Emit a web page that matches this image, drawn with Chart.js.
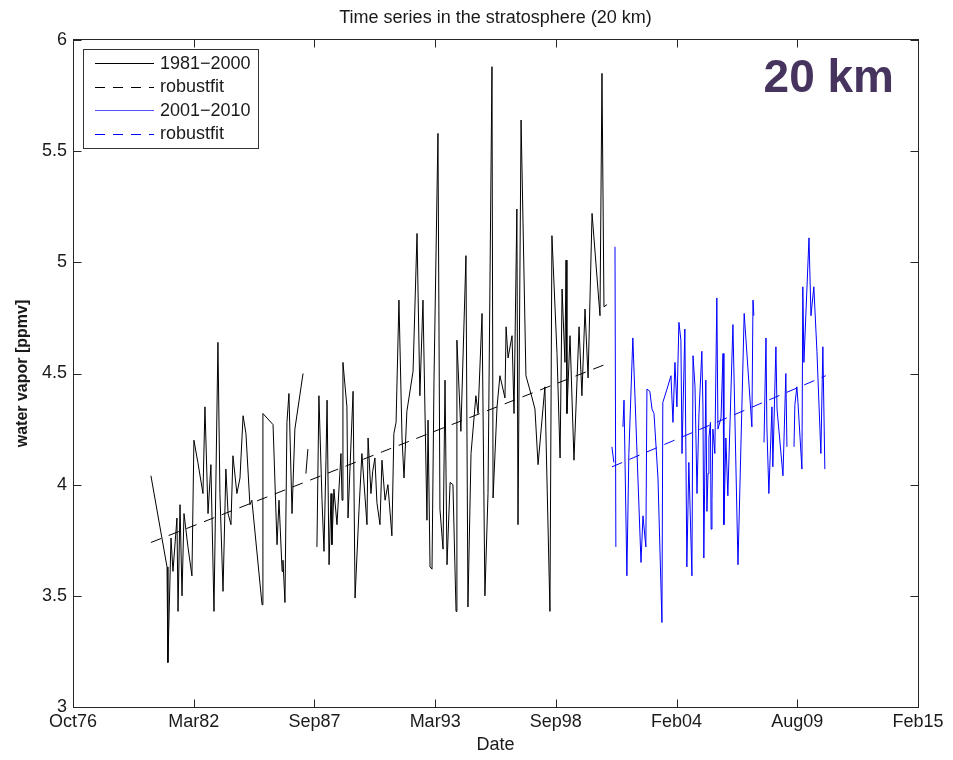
<!DOCTYPE html>
<html>
<head>
<meta charset="utf-8">
<title>Time series in the stratosphere (20 km)</title>
<script src="https://cdn.jsdelivr.net/npm/chart.js@4.4.1/dist/chart.umd.min.js"></script>
<style>
  html, body { margin: 0; padding: 0; background: #fff; }
  #wrap { width: 953px; height: 760px; position: relative; }
</style>
</head>
<body>
<div id="wrap"><canvas id="wv"></canvas></div>
<script>
// Balloon sounding series at 20 km (decimal year, ppmv); null marks a gap
const blackYears = [
  1980.30, 1981.03, 1981.07, 1981.21, 1981.30, 1981.48, 1981.53, 1981.62, 1981.71, 1981.80,
  1981.98, 1982.16, 1982.25, 1982.43, 1982.66, 1982.75, 1982.89, 1983.02, 1983.16, 1983.34,
  1983.43, 1983.57, 1983.70, 1983.80, 1983.93, 1984.02, 1984.20, 1984.34, 1984.48, 1984.61,
  1984.79, 1984.88, 1985.34, 1985.38, 1985.84, 1986.02, 1986.11, 1986.25, 1986.29, 1986.38,
  1986.47, 1986.56, 1986.70, 1986.83, 1987.20, 1987.26, 1987.33, 1987.42, 1987.60, 1987.83,
  1987.92, 1988.06, 1988.15, 1988.24, 1988.29, 1988.38, 1988.47, 1988.51, 1988.60, 1988.74,
  1988.92, 1988.97, 1989.01, 1989.19, 1989.24, 1989.47, 1989.56, 1989.74, 1989.87, 1990.10,
  1990.15, 1990.28, 1990.36, 1990.46, 1990.55, 1990.69, 1990.78, 1990.92, 1991.05, 1991.23,
  1991.32, 1991.42, 1991.55, 1991.69, 1991.78, 1991.91, 1992.19, 1992.37, 1992.50, 1992.64,
  1992.82, 1992.87, 1992.96, 1993.05, 1993.14, 1993.32, 1993.41, 1993.55, 1993.64, 1993.73,
  1993.87, 1994.00, 1994.14, 1994.18, 1994.36, 1994.59, 1994.68, 1994.82, 1995.04, 1995.14,
  1995.32, 1995.45, 1995.59, 1995.77, 1995.82, 1996.00, 1996.13, 1996.36, 1996.41, 1996.50,
  1996.68, 1996.77, 1996.90, 1996.95, 1997.09, 1997.31, 1997.59, 1997.72, 1997.86, 1998.17,
  1998.40, 1998.49, 1998.72, 1998.86, 1998.95, 1999.08, 1999.13, 1999.17, 1999.31, 1999.49,
  1999.72, 1999.85, 1999.99, 2000.13, 2000.31, 2000.67, 2000.76, 2000.85, 2000.99
];
const blackVals = [
  4.04, 3.63, 3.20, 3.76, 3.61, 3.85, 3.43, 3.91, 3.50, 3.87,
  3.72, 3.59, 4.20, 4.10, 3.96, 4.35, 3.87, 4.09, 3.43, 4.64,
  3.96, 3.52, 4.07, 3.87, 3.82, 4.13, 3.96, 4.03, 4.31, 4.23,
  3.91, 3.93, 3.46, 4.32, 4.27, 3.73, 3.93, 3.61, 3.66, 3.47,
  4.28, 4.41, 3.87, 4.25, 4.50, null, 4.05, 4.16, null, 3.72,
  4.40, 3.93, 3.70, 4.11, 4.38, 3.64, 3.96, 3.73, 3.98, 3.82,
  4.14, 3.93, 4.55, 4.35, 3.85, 4.42, 3.49, 3.89, 4.14, 3.82,
  4.21, 3.96, 4.06, 4.12, 3.92, 3.82, 4.11, 3.93, 4.00, 3.77,
  4.23, 4.28, 4.83, 4.21, 4.03, 4.33, 4.51, 5.13, 4.40, 4.83,
  3.84, 4.29, 3.63, 3.62, 4.47, 5.58, 3.89, 3.71, 4.47, 3.64,
  4.01, 4.00, 3.43, 4.65, 4.24, 5.03, 3.45, 4.14, 4.40, 4.32,
  4.77, 3.50, 3.96, 5.88, 3.94, 4.35, 4.49, 4.39, 4.71, 4.57,
  4.67, 4.32, 5.24, 3.82, 5.64, 4.49, 4.39, 4.34, 4.09, 4.44,
  3.43, 5.12, 4.59, 4.12, 4.88, 4.55, 5.01, 4.32, 4.67, 4.11,
  4.71, 4.40, 4.79, 4.48, 5.22, 4.76, 5.85, 4.80, 4.81
];

const blueYears = [
  2001.21, 2001.30, 2001.33, 2001.35, 2001.39, 2001.55, 2001.71, 2001.76, 2001.89, 2001.98,
  2002.16, 2002.35, 2002.53, 2002.62, 2002.75, 2002.80, 2002.93, 2003.03, 2003.12, 2003.30,
  2003.48, 2003.52, 2003.71, 2003.89, 2003.98, 2004.07, 2004.16, 2004.25, 2004.34, 2004.39,
  2004.52, 2004.61, 2004.70, 2004.84, 2004.89, 2004.98, 2005.07, 2005.16, 2005.29, 2005.34,
  2005.38, 2005.47, 2005.52, 2005.57, 2005.61, 2005.68, 2005.71, 2005.75, 2005.79, 2005.88,
  2005.97, 2006.02, 2006.16, 2006.25, 2006.29, 2006.38, 2006.47, 2006.70, 2006.93, 2007.21,
  2007.56, 2007.61, 2007.65, 2007.90, 2008.11, 2008.20, 2008.24, 2008.33, 2008.47, 2008.51,
  2008.65, 2008.70, 2008.97, 2009.10, 2009.15, 2009.30, 2009.47, 2009.51, 2009.60, 2009.65,
  2009.83, 2009.87, 2009.92, 2010.15, 2010.24, 2010.37, 2010.51, 2010.69, 2010.78, 2010.87
];
const blueVals = [
  4.17, 4.10, null, 5.07, 3.72, null, 4.26, 4.38, 3.59, 4.14,
  4.66, 4.14, 3.65, 3.86, 3.72, 4.43, 4.42, 4.34, 4.32, 4.03,
  3.38, 4.37, 4.43, 4.49, 4.28, 4.55, 4.35, 4.73, 4.65, 4.14,
  4.70, 3.63, 4.10, 3.59, 4.58, 4.44, 3.96, 4.32, 4.60, 4.35,
  3.67, 4.47, 3.88, 4.05, 4.21, 4.28, 3.80, 3.93, 4.25, 4.14,
  4.84, 4.25, 4.30, 4.59, 3.82, 4.21, 3.95, 4.72, 3.64, 4.77,
  4.26, 4.83, 4.76, null, 4.19, 4.66, 4.26, 3.96, 4.35, 4.08,
  4.62, 4.34, 4.04, 4.50, 4.17, null, 4.17, 4.36, 4.44, 4.37,
  4.07, 4.89, 4.55, 5.11, 4.76, 4.89, 4.60, 4.14, 4.62, 4.07
];

// robust linear fits for both periods (end points)
const fitBlackYears = [1980.30, 2000.89];
const fitBlackVals = [3.74, 4.54];
const fitBlueYears = [2001.21, 2010.91];
const fitBlueVals = [4.08, 4.49];

// datenum ticks every 2000 days
const tickYears = [1976.765, 1982.241, 1987.716, 1993.192, 1998.668, 2004.144, 2009.619, 2015.095];
const tickLabels = ['Oct76', 'Mar82', 'Sep87', 'Mar93', 'Sep98', 'Feb04', 'Aug09', 'Feb15'];
const yTicks = [3, 3.5, 4, 4.5, 5, 5.5, 6];

const legendLabels = ['1981\u22122000', 'robustfit', '2001\u22122010', 'robustfit'];

const FONT = "'Liberation Sans', Arial, Helvetica, sans-serif";
const axisColor = '#262626';
const textColor = '#1a1a1a';

const toXY = (xs, ys) => xs.map((x, i) => ({ x: x, y: ys[i] }));

// box, inward ticks, title, legend and the altitude tag
const framePlugin = {
  id: 'frame',
  afterDraw(chart) {
    const { ctx, chartArea: a, scales } = chart;
    const L = Math.round(a.left) + 0.5, R = Math.round(a.right) + 0.5;
    const T = Math.round(a.top) - 0.5, B = Math.round(a.bottom) + 0.5;
    ctx.save();
    ctx.strokeStyle = axisColor;
    ctx.lineWidth = 1;
    ctx.strokeRect(L, T, R - L, B - T);
    ctx.beginPath();
    tickYears.forEach(v => {
      const px = Math.round(scales.x.getPixelForValue(v)) + 0.5;
      ctx.moveTo(px, B); ctx.lineTo(px, B - 8);
      ctx.moveTo(px, T); ctx.lineTo(px, T + 8);
    });
    yTicks.forEach(v => {
      const py = Math.round(scales.y.getPixelForValue(v)) + 0.5;
      ctx.moveTo(L, py); ctx.lineTo(L + 8, py);
      ctx.moveTo(R, py); ctx.lineTo(R - 8, py);
    });
    ctx.stroke();

    // title
    ctx.fillStyle = textColor;
    ctx.font = '18px ' + FONT;
    ctx.textAlign = 'center';
    ctx.textBaseline = 'middle';
    ctx.fillText('Time series in the stratosphere (20 km)', (a.left + a.right) / 2, 18);

    // legend box
    const lx = 83.5, ly = 49.5, lw = 175, lh = 99;
    ctx.fillStyle = '#fff';
    ctx.fillRect(lx, ly, lw, lh);
    ctx.strokeStyle = '#333';
    ctx.strokeRect(lx, ly, lw, lh);
    const rows = [63, 86.5, 110, 133.5];
    const styles = [
      { c: '#000', d: [] }, { c: '#000', d: [10, 8] },
      { c: '#5050ff', d: [] }, { c: '#0000ff', d: [10, 8] }
    ];
    rows.forEach((ry, i) => {
      ctx.strokeStyle = styles[i].c;
      ctx.setLineDash(styles[i].d);
      ctx.beginPath();
      ctx.moveTo(95, Math.round(ry) + 0.5);
      ctx.lineTo(154, Math.round(ry) + 0.5);
      ctx.stroke();
      ctx.setLineDash([]);
      ctx.fillStyle = textColor;
      ctx.font = '18px ' + FONT;
      ctx.textAlign = 'left';
      ctx.textBaseline = 'middle';
      ctx.fillText(legendLabels[i], 160, ry + 1);
    });

    // altitude tag
    ctx.fillStyle = '#46345f';
    ctx.font = 'bold 46px ' + FONT;
    ctx.textAlign = 'right';
    ctx.textBaseline = 'alphabetic';
    ctx.fillText('20 km', 894, 92);
    ctx.restore();
  }
};

new Chart(document.getElementById('wv'), {
  type: 'line',
  data: {
    datasets: [
      {
        label: legendLabels[0],
        data: toXY(blackYears, blackVals),
        borderColor: '#000',
        borderWidth: 1,
        order: 2
      },
      {
        label: legendLabels[1],
        data: toXY(fitBlackYears, fitBlackVals),
        borderColor: '#000',
        borderWidth: 1,
        borderDash: [11, 8],
        order: 0
      },
      {
        label: legendLabels[2],
        data: toXY(blueYears, blueVals),
        borderColor: '#0000ff',
        borderWidth: 1,
        order: 1
      },
      {
        label: legendLabels[3],
        data: toXY(fitBlueYears, fitBlueVals),
        borderColor: '#0000ff',
        borderWidth: 1,
        borderDash: [11, 8],
        order: 0
      }
    ]
  },
  options: {
    responsive: true,
    maintainAspectRatio: false,
    devicePixelRatio: 1,
    animation: false,
    spanGaps: false,
    elements: {
      point: { radius: 0 },
      line: { tension: 0, borderJoinStyle: 'round' }
    },
    layout: { padding: { top: 40, right: 35, left: 0, bottom: 0 } },
    plugins: {
      legend: { display: false },
      tooltip: { enabled: false }
    },
    scales: {
      x: {
        type: 'linear',
        min: tickYears[0],
        max: tickYears[tickYears.length - 1],
        afterBuildTicks: s => { s.ticks = tickYears.map(v => ({ value: v })); },
        afterFit: s => { s.height = 53; },
        grid: { display: false, drawTicks: false },
        border: { display: false },
        ticks: {
          autoSkip: false,
          maxRotation: 0,
          padding: 4,
          color: textColor,
          font: { family: FONT, size: 18 },
          callback: (v, i) => tickLabels[i]
        },
        title: {
          display: true,
          text: 'Date',
          color: textColor,
          font: { family: FONT, size: 18 },
          padding: { top: 0, bottom: 4 }
        }
      },
      y: {
        min: 3,
        max: 6,
        afterBuildTicks: s => { s.ticks = yTicks.map(v => ({ value: v })); },
        afterFit: s => { s.width = 73; },
        grid: { display: false, drawTicks: false },
        border: { display: false },
        ticks: {
          padding: 6,
          color: textColor,
          font: { family: FONT, size: 18 },
          callback: v => String(v)
        },
        title: {
          display: true,
          text: 'water vapor [ppmv]',
          color: textColor,
          font: { family: FONT, size: 16, weight: 'bold' },
          padding: { top: 13, bottom: 0 }
        }
      }
    }
  },
  plugins: [framePlugin]
});
</script>
</body>
</html>
